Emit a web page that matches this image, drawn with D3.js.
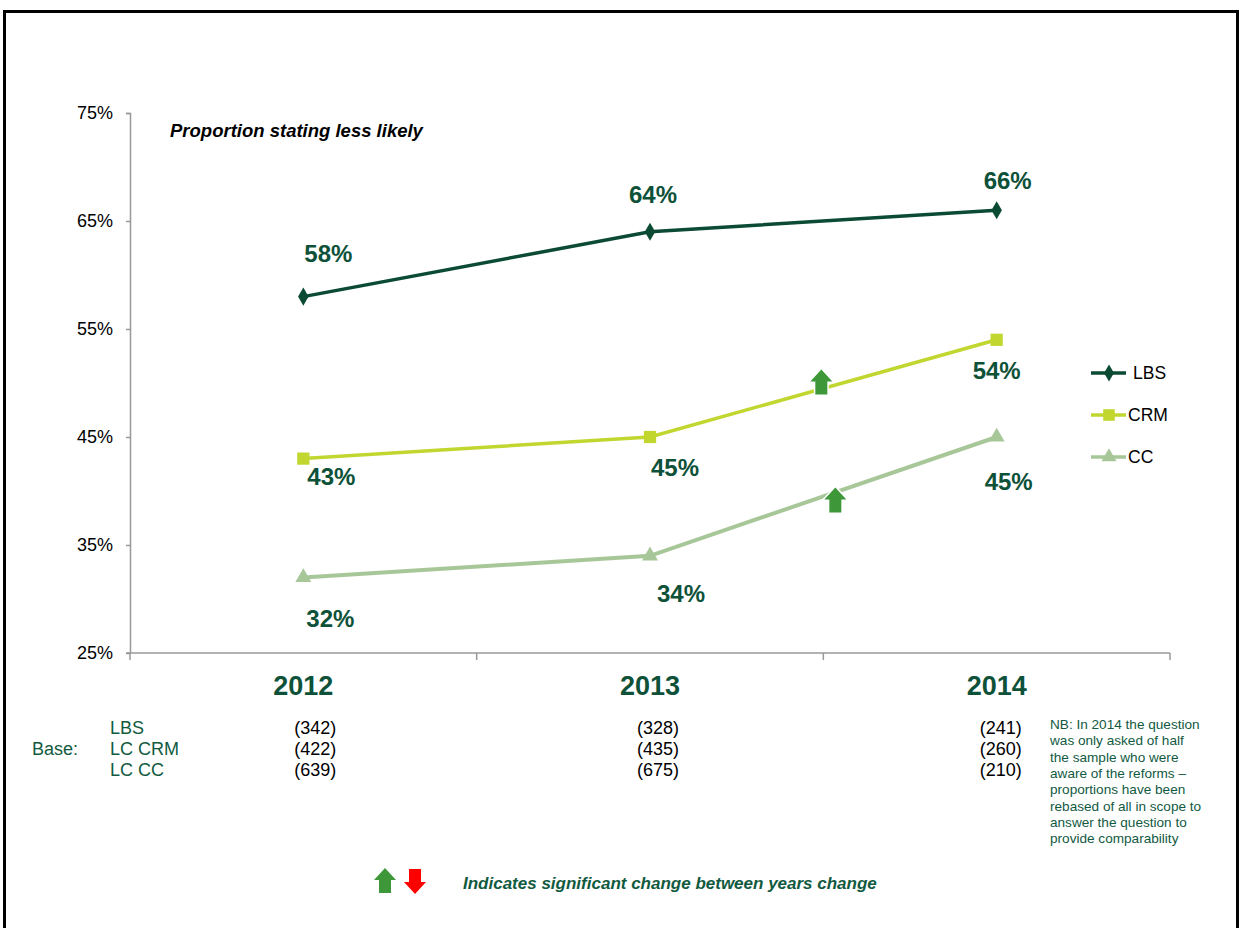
<!DOCTYPE html>
<html>
<head>
<meta charset="utf-8">
<script src="https://cdn.jsdelivr.net/npm/d3@7"></script>
<style>
    body { margin: 0; background: #fff; }
    svg { display: block; font-family: Arial, "Liberation Sans", sans-serif; }
</style>
</head>
<body>
<div id="chart"></div>
<script>

// chart data
var years = ["2012", "2013", "2014"];
var lbs = [58, 64, 66];
var crm = [43, 45, 54];
var cc = [32, 34, 45];
var yTicks = [25, 35, 45, 55, 65, 75];

// base sizes
var baseLabels = ["LBS", "LC CRM", "LC CC"];
var baseLbs = [342, 328, 241];
var baseCrm = [422, 435, 260];
var baseCc = [639, 675, 210];

// significant rises: series name, segment start index
var sigChanges = [
    {series: "CRM", from: 1},
    {series: "CC", from: 1}
];

var note = ["NB: In 2014 the question", "was only asked of half", "the sample who were",
    "aware of the reforms \u2013", "proportions  have been", "rebased of all in scope to",
    "answer the question to", "provide comparability"];

var darkGreen = "#0e5139";
var textGreen = "#115a3f";

var series = [
    {name: "LBS", values: lbs, color: "#0b4a33", symbol: d3.symbolDiamond, size: 95, width: 3.5,
        labelOffsets: [[25, -44], [3, -38], [11, -30]]},
    {name: "CRM", values: crm, color: "#c2d630", symbol: d3.symbolSquare, size: 150, width: 3.5,
        labelOffsets: [[28, 17], [25, 30], [0, 30]]},
    {name: "CC", values: cc, color: "#a8c799", symbol: d3.symbolTriangle, size: 110, width: 4,
        labelOffsets: [[27, 41], [31, 37], [12, 44]]}
];

// base table column shift from the category centre
var baseShift = [12, 8, 4];

var width = 1242, height = 928;
var svg = d3.select("#chart").append("svg").attr("width", width).attr("height", height);

// outer frame
svg.append("rect")
    .attr("x", 4.5).attr("y", 11.5)
    .attr("width", 1233).attr("height", 940)
    .attr("fill", "none").attr("stroke", "#000").attr("stroke-width", 3);

var x = d3.scaleBand().domain(years).range([130, 1170]);
var y = d3.scaleLinear().domain([25, 75]).range([653, 113]);
var cx = function(i) { return x(years[i]) + x.bandwidth() / 2; };

// y axis
var yAxis = svg.append("g")
    .attr("transform", "translate(130,0)")
    .call(d3.axisLeft(y).tickValues(yTicks).tickSize(4).tickPadding(13).tickFormat(d => d + "%"));
yAxis.selectAll("path, line").attr("stroke", "#999").attr("stroke-width", 1.5);
yAxis.selectAll("text").attr("font-size", 18).attr("fill", "#000").attr("font-family", "Arial, 'Liberation Sans', sans-serif");
yAxis.select("path").attr("d", "M-4,113.5H0.5V653");

// x axis with boundary ticks
var xAxis = svg.append("g").attr("transform", "translate(0,653)");
xAxis.append("line").attr("x1", 126).attr("x2", 1170).attr("y1", 0).attr("y2", 0)
    .attr("stroke", "#999").attr("stroke-width", 1.5);
xAxis.selectAll(".bt")
    .data(years)
    .join("line")
    .attr("x1", d => x(d) + x.bandwidth()).attr("x2", d => x(d) + x.bandwidth())
    .attr("y1", 0).attr("y2", 7)
    .attr("stroke", "#999").attr("stroke-width", 1.5);
xAxis.append("line").attr("x1", 130).attr("x2", 130).attr("y1", 0).attr("y2", 7)
    .attr("stroke", "#999").attr("stroke-width", 1.5);
xAxis.selectAll("text")
    .data(years)
    .join("text")
    .attr("x", (d, i) => cx(i))
    .attr("y", 42)
    .attr("text-anchor", "middle")
    .attr("font-size", 27).attr("font-weight", "bold")
    .attr("fill", darkGreen)
    .text(d => d);

// chart title
svg.append("text")
    .attr("x", 170).attr("y", 137)
    .attr("font-size", 18.5).attr("font-weight", "bold").attr("font-style", "italic")
    .attr("fill", "#000")
    .text("Proportion stating less likely");

// lines
var line = d3.line().x((d, i) => cx(i)).y(d => y(d));

series.forEach(function(s) {
    svg.append("path")
        .attr("d", line(s.values))
        .attr("fill", "none")
        .attr("stroke", s.color)
        .attr("stroke-width", s.width);

    svg.append("g").selectAll("path")
        .data(s.values)
        .join("path")
        .attr("transform", (d, i) => `translate(${cx(i)},${y(d)})`)
        .attr("d", d3.symbol(s.symbol, s.size))
        .attr("fill", s.color);

    svg.append("g").selectAll("text")
        .data(s.values)
        .join("text")
        .attr("x", (d, i) => cx(i) + s.labelOffsets[i][0])
        .attr("y", (d, i) => y(d) + s.labelOffsets[i][1] + 9)
        .attr("text-anchor", "middle")
        .attr("font-size", 24).attr("font-weight", "bold")
        .attr("fill", darkGreen)
        .text(d => d + "%");
});

// arrow glyph
function arrow(g, up, fill) {
    var p = up
        ? "M0,-13 L11,-1 L6,-1 L6,12 L-6,12 L-6,-1 L-11,-1 Z"
        : "M0,13 L11,1 L6,1 L6,-12 L-6,-12 L-6,1 L-11,1 Z";
    g.append("path").attr("d", p).attr("fill", fill)
        .attr("stroke", "#fff").attr("stroke-width", 3).attr("paint-order", "stroke");
}

// significance arrows at the middle of the changed segment
sigChanges.forEach(function(c) {
    var s = series.find(d => d.name === c.series);
    var mx = (cx(c.from) + cx(c.from + 1)) / 2;
    var my = (y(s.values[c.from]) + y(s.values[c.from + 1])) / 2;
    var dx = c.series === "CRM" ? -2 : 12;
    var dy = c.series === "CRM" ? -6 : 4;
    arrow(svg.append("g").attr("transform", `translate(${mx + dx},${my + dy})`), true, "#3e983a");
});

// legend
var legend = svg.append("g").selectAll("g")
    .data(series)
    .join("g")
    .attr("transform", (d, i) => `translate(1091,${373 + i * 42})`);
legend.append("line")
    .attr("x1", 0).attr("x2", 35)
    .attr("stroke", d => d.color).attr("stroke-width", 3.5);
legend.append("path")
    .attr("transform", "translate(18,0)")
    .attr("d", d => d3.symbol(d.symbol, d.size * 0.9)())
    .attr("fill", d => d.color);
legend.append("text")
    .attr("x", (d, i) => i === 0 ? 42 : 37)
    .attr("y", 6)
    .attr("font-size", 17.5)
    .attr("fill", "#000")
    .text(d => d.name);

// base sizes table
svg.append("text")
    .attr("x", 78).attr("y", 755)
    .attr("text-anchor", "end")
    .attr("font-size", 18).attr("fill", textGreen)
    .text("Base:");

var baseRows = [baseLbs, baseCrm, baseCc];
baseRows.forEach(function(row, r) {
    var ry = 734 + r * 21;
    svg.append("text")
        .attr("x", 110).attr("y", ry)
        .attr("font-size", 18).attr("fill", textGreen)
        .text(baseLabels[r]);
    svg.append("g").selectAll("text")
        .data(row)
        .join("text")
        .attr("x", (d, i) => cx(i) + baseShift[i])
        .attr("y", ry)
        .attr("text-anchor", "middle")
        .attr("font-size", 18).attr("fill", "#000")
        .text(d => "(" + d + ")");
});

// footnote
svg.append("g").selectAll("text")
    .data(note)
    .join("text")
    .attr("x", 1050)
    .attr("y", (d, i) => 729 + i * 16.3)
    .attr("font-size", 13.6)
    .attr("fill", textGreen)
    .text(d => d);

// significance key
arrow(svg.append("g").attr("transform", "translate(385,881)"), true, "#3e983a");
arrow(svg.append("g").attr("transform", "translate(415,881)"), false, "#ff0000");
svg.append("text")
    .attr("x", 463).attr("y", 889)
    .attr("font-size", 17).attr("font-weight", "bold").attr("font-style", "italic")
    .attr("fill", textGreen)
    .text("Indicates significant change between years change");

</script>
</body>
</html>
